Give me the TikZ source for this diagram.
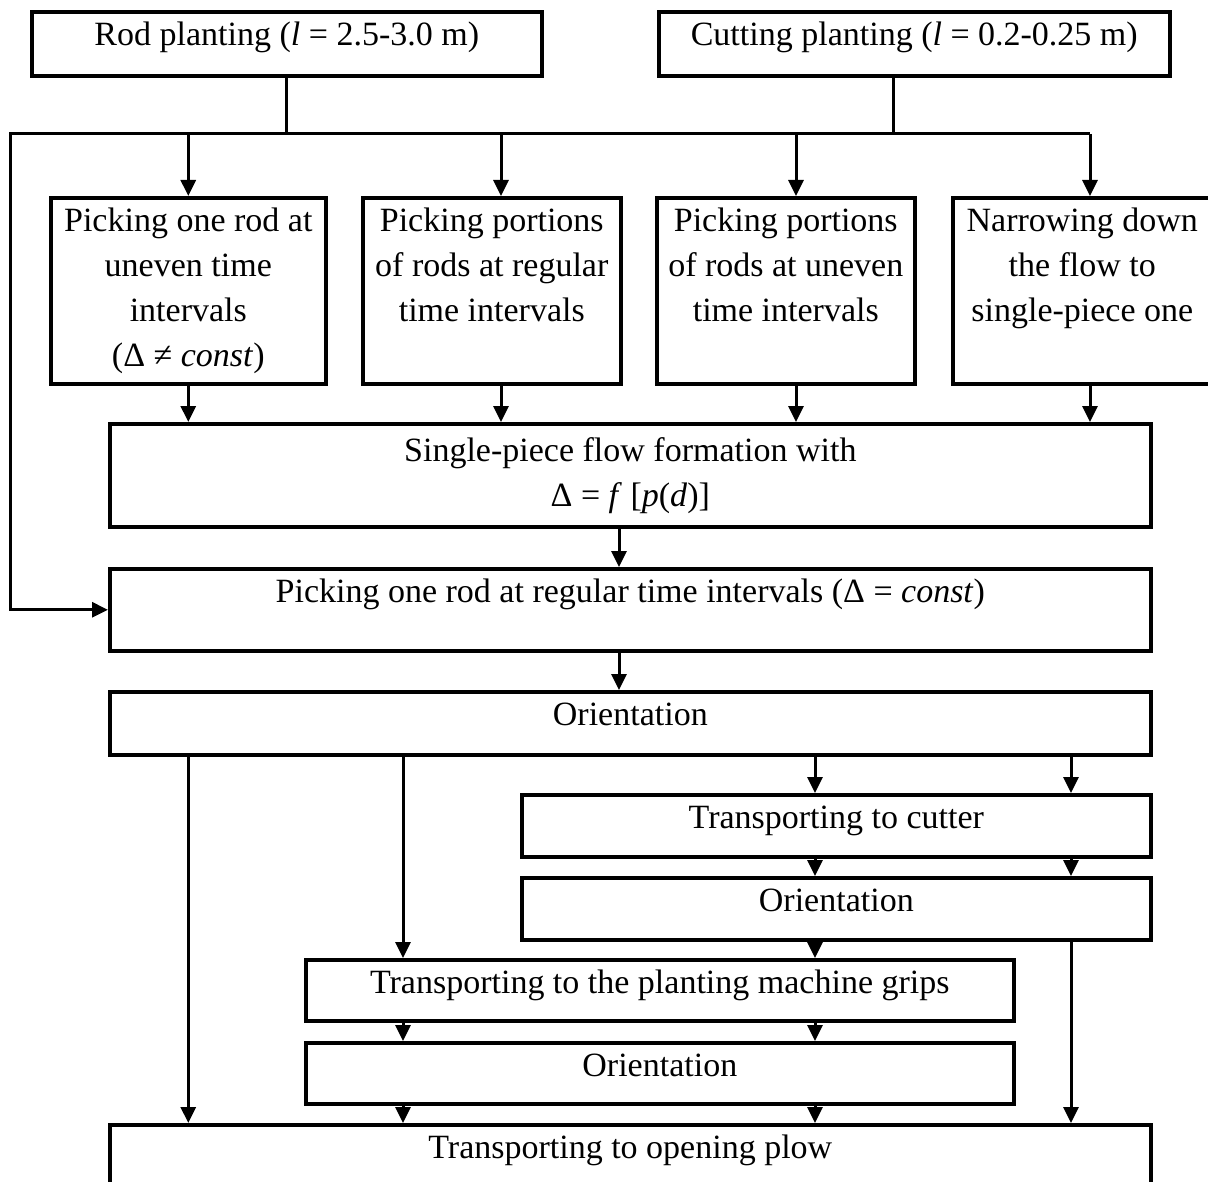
\documentclass[tikz,border=0pt]{standalone}
\usepackage{fontspec}
\setmainfont{Liberation Serif}
\usetikzlibrary{arrows.meta, positioning}

\begin{document}
\begin{tikzpicture}[x=1pt, y=-1pt, font=\fontsize{34}{45}\selectfont,
		box/.style={draw, line width=3.6pt, anchor=north west, inner xsep=4pt, inner ysep=0pt, align=center},
		sbox/.style={box, text height=34pt, text depth=#1},
		line/.style={line width=3pt},
		arr/.style={line, -{Triangle[length=16pt, width=15pt]}}]
			\useasboundingbox (0, 0) rectangle (1208, 1182);
			% Boxes:
			\node[sbox=30pt, minimum width=510pt](rod) at (30, 10){Rod planting (\textit{l} = 2.5-3.0 m)};
			\node[sbox=30pt, minimum width=511pt](cut) at (657, 10){Cutting planting (\textit{l} = 0.2-0.25 m)};
			\node[box, minimum width=275pt, minimum height=186pt](p1) at (49, 196){Picking one rod at\\uneven time\\intervals\\(Δ ≠ \textit{const})};
			\node[box, minimum width=258pt, minimum height=186pt](p2) at (361, 196){Picking portions\\of rods at regular\\time intervals\\\vphantom{()}};
			\node[box, minimum width=258pt, minimum height=186pt](p3) at (655, 196){Picking portions\\of rods at uneven\\time intervals\\\vphantom{()}};
			\node[box, minimum width=259pt, minimum height=186pt](p4) at (951, 196){Narrowing down\\the flow to\\single-piece one\\\vphantom{()}};
			\node[box, minimum width=1041pt, minimum height=103pt](single) at (108, 422){Single-piece flow formation with\\Δ = \textit{f} [\textit{p}(\textit{d})]};
			\node[sbox=48pt, minimum width=1041pt](pick) at (108, 567){Picking one rod at regular time intervals (Δ = \textit{const})};
			\node[sbox=29pt, minimum width=1041pt](orient) at (108, 690){Orientation};
			\node[sbox=28pt, minimum width=629pt](cutter) at (520, 793){Transporting to cutter};
			\node[sbox=28pt, minimum width=629pt](orientcut) at (520, 876){Orientation};
			\node[sbox=27pt, minimum width=708pt](grips) at (304, 958){Transporting to the planting machine grips};
			\node[sbox=27pt, minimum width=708pt](orientgrip) at (304, 1041){Orientation};
			\node[sbox=70pt, minimum width=1041pt](plow) at (108, 1123){Transporting to opening plow};
			% Columns of the connectors:
			\coordinate (busL) at (10, 134);
			\coordinate (busR) at (1090, 134);
			\coordinate (cstem) at (893, 134);
			\coordinate (t2) at (501, 134);
			\coordinate (t3) at (796, 134);
			\coordinate (k0) at (619, 0);
			\coordinate (k1) at (403, 0);
			\coordinate (k2) at (815, 0);
			\coordinate (k3) at (1071, 0);
			% Wires:
			\draw[line] (rod.south) -- (rod.south |- busL);
			\draw[line] (cstem |- cut.south) -- (cstem);
			\draw[arr] (busR) -- (busL) |- (pick.west);
			\draw[arr] (p1.north |- busL) -- (p1.north);
			\draw[arr] (t2) -- (t2 |- p2.north);
			\draw[arr] (t3) -- (t3 |- p3.north);
			\draw[arr] (busR) -- (busR |- p4.north);
			\draw[arr] (p1.south) -- (p1.south |- single.north);
			\draw[arr] (t2 |- p2.south) -- (t2 |- single.north);
			\draw[arr] (t3 |- p3.south) -- (t3 |- single.north);
			\draw[arr] (busR |- p4.south) -- (busR |- single.north);
			\draw[arr] (k0 |- single.south) -- (k0 |- pick.north);
			\draw[arr] (k0 |- pick.south) -- (k0 |- orient.north);
			\draw[arr] (p1.south |- orient.south) -- (p1.south |- plow.north);
			\draw[arr] (k1 |- orient.south) -- (k1 |- grips.north);
			\draw[arr] (k2 |- orient.south) -- (k2 |- cutter.north);
			\draw[arr] (k3 |- orient.south) -- (k3 |- cutter.north);
			\draw[arr] (k2 |- cutter.south) -- (k2 |- orientcut.north);
			\draw[arr] (k3 |- cutter.south) -- (k3 |- orientcut.north);
			\draw[arr] (k2 |- orientcut.south) -- (k2 |- grips.north);
			\draw[arr] (k3 |- orientcut.south) -- (k3 |- plow.north);
			\draw[arr] (k1 |- grips.south) -- (k1 |- orientgrip.north);
			\draw[arr] (k2 |- grips.south) -- (k2 |- orientgrip.north);
			\draw[arr] (k1 |- orientgrip.south) -- (k1 |- plow.north);
			\draw[arr] (k2 |- orientgrip.south) -- (k2 |- plow.north);
		\end{tikzpicture}
\end{document}
